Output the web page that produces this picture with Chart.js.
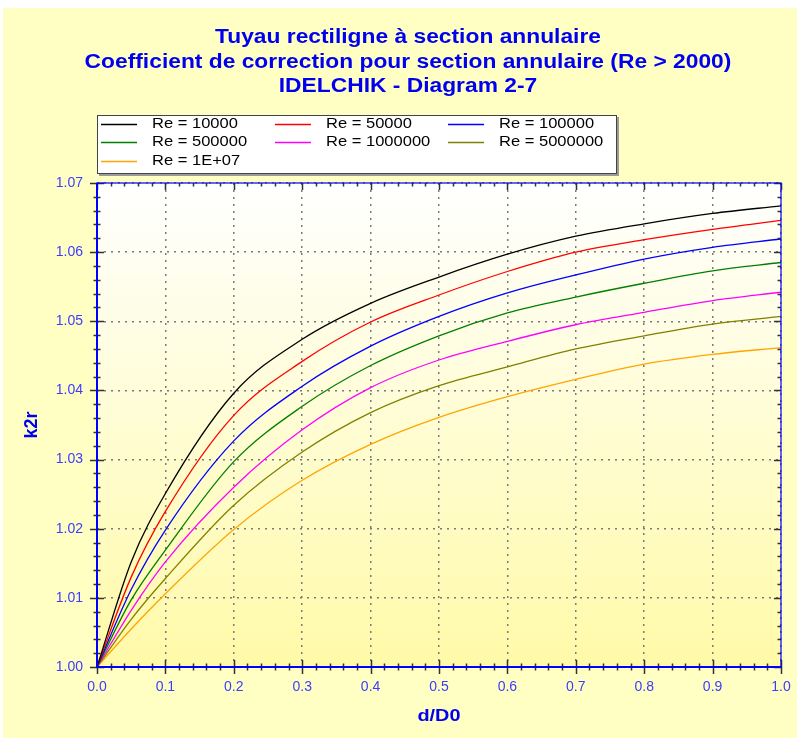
<!DOCTYPE html>
<html>
<head>
<meta charset="utf-8">
<script src="https://cdn.jsdelivr.net/npm/chart.js@4.4.1/dist/chart.umd.min.js"></script>
<style>
  html, body { margin: 0; padding: 0; background: #fff; }
  #wrap { width: 797px; height: 740px; position: relative; }
</style>
</head>
<body>
<div id="wrap"><canvas id="chart" width="797" height="740"></canvas></div>
<script>
// d/D0 positions
const dD0 = [0, 0.05, 0.1, 0.2, 0.3, 0.4, 0.5, 0.6, 0.7, 0.8, 0.9, 1.0];

// k2r for each Reynolds number
const re1e4 = [1.0, 1.0152, 1.0251, 1.0396, 1.0474, 1.0526, 1.0564, 1.0597, 1.0623, 1.0641, 1.0656, 1.0667];
const re5e4 = [1.0, 1.0130, 1.0225, 1.0364, 1.0442, 1.0499, 1.0538, 1.0572, 1.0600, 1.0618, 1.0633, 1.0646];
const re1e5 = [1.0, 1.0112, 1.0198, 1.0327, 1.0406, 1.0464, 1.0507, 1.0541, 1.0567, 1.0590, 1.0607, 1.0619];
const re5e5 = [1.0, 1.0097, 1.0169, 1.0297, 1.0377, 1.0436, 1.0479, 1.0512, 1.0535, 1.0555, 1.0573, 1.0585];
const re1e6 = [1.0, 1.0082, 1.0152, 1.0260, 1.0343, 1.0404, 1.0444, 1.0471, 1.0495, 1.0513, 1.0530, 1.0542];
const re5e6 = [1.0, 1.0069, 1.0128, 1.0234, 1.0311, 1.0368, 1.0407, 1.0434, 1.0460, 1.0479, 1.0496, 1.0507];
const re1e7 = [1.0, 1.0055, 1.0106, 1.0199, 1.0270, 1.0322, 1.0361, 1.0391, 1.0416, 1.0438, 1.0452, 1.0462];

const seriesLabels = ['Re = 10000', 'Re = 50000', 'Re = 100000', 'Re = 500000', 'Re = 1000000', 'Re = 5000000', 'Re = 1E+07'];
const seriesValues = [re1e4, re5e4, re1e5, re5e5, re1e6, re5e6, re1e7];
const seriesColors = ['#000000', '#ff0000', '#0000ff', '#008000', '#ff00ff', '#808000', '#ffa500'];

const titleLines = [
  'Tuyau rectiligne à section annulaire',
  'Coefficient de correction pour section annulaire (Re > 2000)',
  'IDELCHIK - Diagram 2-7'
];

const FONT = '"Liberation Sans", Arial, sans-serif';
const BLUE = '#0000f0';
const TICKBLUE = '#3c3cff';

const datasets = seriesValues.map((vals, i) => ({
  label: seriesLabels[i],
  data: vals.map((v, j) => ({ x: dD0[j], y: v })),
  borderColor: seriesColors[i],
  backgroundColor: seriesColors[i],
  borderWidth: 1.3,
  pointRadius: 0,
  fill: false,
  cubicInterpolationMode: 'monotone'
}));

// text widened a little, like the original bitmap
function wideText(ctx, text, x, y, sx) {
  ctx.save();
  ctx.translate(x, y);
  ctx.scale(sx, 1);
  ctx.fillText(text, 0, 0);
  ctx.restore();
}

// panel + plot background
const backdrop = {
  id: 'backdrop',
  beforeDraw(chart) {
    const { ctx, chartArea: a } = chart;
    ctx.save();
    ctx.fillStyle = '#ffffff';
    ctx.fillRect(0, 0, chart.width, chart.height);
    ctx.fillStyle = '#ffffc4';
    ctx.fillRect(3, 8, chart.width - 3, chart.height - 10);
    const g = ctx.createLinearGradient(0, a.top, 0, a.bottom);
    g.addColorStop(0, '#ffffff');
    g.addColorStop(1, '#fffaa8');
    ctx.fillStyle = g;
    ctx.fillRect(a.left, a.top, a.right - a.left, a.bottom - a.top);
    ctx.restore();
  }
};

// blue frame with major and minor ticks
const frame = {
  id: 'frame',
  afterDatasetsDraw(chart) {
    const { ctx, chartArea: a, scales: { x, y } } = chart;
    ctx.save();
    ctx.strokeStyle = '#333';
    ctx.lineWidth = 1.5;
    ctx.beginPath();
    for (let i = 0; i <= 35; i++) {
      const py = Math.round(y.getPixelForValue(1 + i * 0.002)) + 0.5;
      const len = i % 5 === 0 ? 7 : 3.5;
      ctx.moveTo(a.left - len, py); ctx.lineTo(a.left + len, py);
      ctx.moveTo(a.right, py); ctx.lineTo(a.right - len, py);
    }
    for (let i = 0; i <= 50; i++) {
      const px = Math.round(x.getPixelForValue(i * 0.02)) + 0.5;
      const len = i % 5 === 0 ? 7 : 3.5;
      ctx.moveTo(px, a.bottom - len); ctx.lineTo(px, a.bottom + len);
      ctx.moveTo(px, a.top); ctx.lineTo(px, a.top + len);
    }
    ctx.stroke();
    ctx.strokeStyle = '#0000ff';
    ctx.lineWidth = 1.2;
    ctx.strokeRect(a.left, a.top, a.right - a.left, a.bottom - a.top);
    ctx.lineWidth = 2;
    ctx.beginPath();
    ctx.moveTo(a.left, a.top); ctx.lineTo(a.left, a.bottom); ctx.lineTo(a.right, a.bottom);
    ctx.stroke();
    ctx.restore();
  }
};

// titles, axis names and the boxed legend
const texts = {
  id: 'texts',
  afterDraw(chart) {
    const { ctx, chartArea: a } = chart;
    ctx.save();
    ctx.fillStyle = BLUE;
    ctx.textAlign = 'center';
    ctx.textBaseline = 'alphabetic';
    ctx.font = 'bold 20px ' + FONT;
    titleLines.forEach((t, i) => wideText(ctx, t, 408, 43 + i * 24.5, 1.14));

    ctx.font = 'bold 17px ' + FONT;
    wideText(ctx, 'd/D0', (a.left + a.right) / 2, 721, 1.17);
    ctx.save();
    ctx.translate(37, 425);
    ctx.rotate(-Math.PI / 2);
    ctx.font = 'bold 18px ' + FONT;
    ctx.fillText('k2r', 0, 0);
    ctx.restore();

    // legend box
    const bx = 97, by = 115, bw = 520, bh = 59;
    ctx.fillStyle = '#9a9a9a';
    ctx.fillRect(bx + 2, by + 2, bw, bh);
    ctx.fillStyle = '#ffffff';
    ctx.fillRect(bx, by, bw, bh);
    ctx.strokeStyle = '#444';
    ctx.lineWidth = 1;
    ctx.strokeRect(bx + 0.5, by + 0.5, bw - 1, bh - 1);
    const colX = [101, 275, 448];
    const rowY = [124, 142, 161];
    ctx.font = '14px ' + FONT;
    ctx.textAlign = 'left';
    ctx.textBaseline = 'middle';
    chart.data.datasets.forEach((ds, i) => {
      const cx = colX[i % 3], cy = rowY[Math.floor(i / 3)];
      ctx.strokeStyle = ds.borderColor;
      ctx.lineWidth = 1.3;
      ctx.beginPath();
      ctx.moveTo(cx, cy + 0.5); ctx.lineTo(cx + 36, cy + 0.5);
      ctx.stroke();
      ctx.fillStyle = '#000';
      wideText(ctx, ds.label, cx + 51, cy, 1.18);
    });
    ctx.restore();
  }
};

new Chart(document.getElementById('chart'), {
  type: 'line',
  data: { datasets },
  plugins: [backdrop, frame, texts],
  options: {
    responsive: false,
    animation: false,
    layout: { padding: { top: 183, right: 16, left: 0, bottom: 0 } },
    plugins: { legend: { display: false }, title: { display: false }, tooltip: { enabled: false } },
    scales: {
      x: {
        type: 'linear',
        min: 0,
        max: 1,
        afterFit(s) { s.height = 73; s.paddingLeft = 0; s.paddingRight = 0; },
        ticks: {
          stepSize: 0.1,
          padding: 12,
          color: TICKBLUE,
          font: { family: FONT, size: 14 },
          callback: v => v.toFixed(1)
        },
        grid: { color: '#7a7a7a', lineWidth: 1.5, drawTicks: false },
        border: { display: false, dash: [2, 5] }
      },
      y: {
        min: 1.0,
        max: 1.07,
        afterFit(s) { s.width = 97; s.paddingTop = 0; s.paddingBottom = 0; },
        ticks: {
          stepSize: 0.01,
          padding: 14,
          color: TICKBLUE,
          font: { family: FONT, size: 14 },
          callback: v => v.toFixed(2)
        },
        grid: { color: '#7a7a7a', lineWidth: 1.5, drawTicks: false },
        border: { display: false, dash: [2, 5] }
      }
    }
  }
});
</script>
</body>
</html>
